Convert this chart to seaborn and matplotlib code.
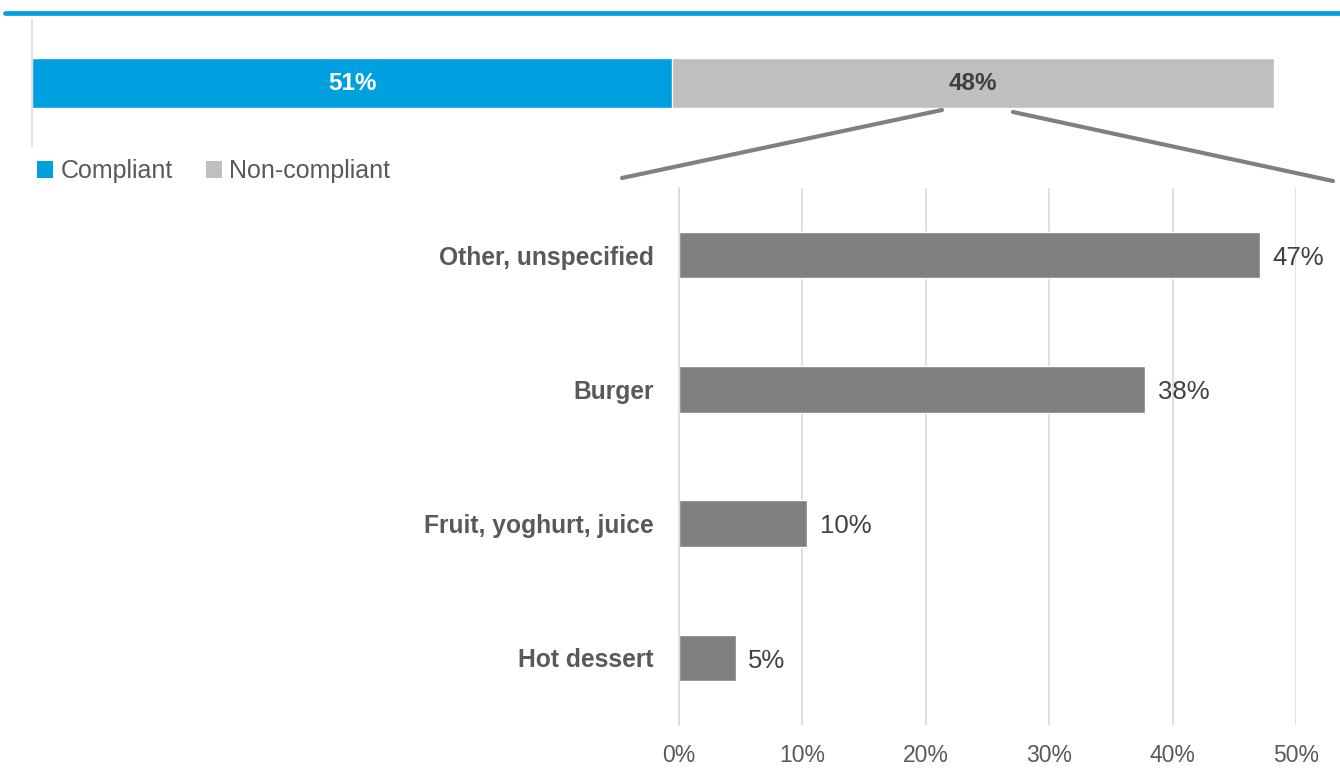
import matplotlib
matplotlib.use("Agg")
import matplotlib.pyplot as plt
from matplotlib.lines import Line2D
from matplotlib.patches import Patch
import seaborn as sns
import pandas as pd

# Overall compliance split (percent)
status_labels = ["Compliant", "Non-compliant"]
status_values = [51, 48]

# Breakdown of the non-compliant items (percent)
categories = ["Other, unspecified", "Burger", "Fruit, yoghurt, juice", "Hot dessert"]
category_values = [47.1, 37.8, 10.4, 4.6]

x_ticks = [0, 10, 20, 30, 40, 50]

BLUE = "#009fe0"
LIGHT_GREY = "#bfbfbf"
DARK_GREY = "#808080"
TEXT = "#595959"
GRID = "#d9d9d9"

sns.set_theme(style="white")
plt.rcParams["font.family"] = ["Liberation Sans", "DejaVu Sans"]

W, H = 1340, 780
fig = plt.figure(figsize=(W / 100, H / 100), dpi=100)


def fx(px):
    return px / W


def fy(py):
    return 1 - py / H


# Header rule
fig.add_artist(Line2D([fx(5), 1.0], [fy(12.5), fy(12.5)], color=BLUE, lw=3.4,
                      transform=fig.transFigure))

# ---- Top: stacked compliance bar ----
ax_top = fig.add_axes([fx(32), fy(146), fx(1255), (146 - 20) / H])
top_df = pd.DataFrame({"row": ["all"], "total": [sum(status_values)],
                       "first": [status_values[0]]})
sns.barplot(data=top_df, x="total", y="row", orient="h", color=LIGHT_GREY,
            width=0.4, saturation=1, ax=ax_top)
sns.barplot(data=top_df, x="first", y="row", orient="h", color=BLUE,
            width=0.4, saturation=1, ax=ax_top)
ax_top.set_xlim(0, 100)
ax_top.set_ylim(0.5, -0.5)
ax_top.set_xlabel("")
ax_top.set_ylabel("")
ax_top.set_xticks([])
ax_top.set_yticks([])
for s in ["top", "right", "bottom"]:
    ax_top.spines[s].set_visible(False)
ax_top.spines["left"].set_color(GRID)
ax_top.spines["left"].set_linewidth(1.2)

ax_top.text(status_values[0] / 2, 0, f"{status_values[0]}%", ha="center", va="center",
            color="white", fontsize=17.5, fontweight="bold")
ax_top.text(status_values[0] + status_values[1] / 2, 0, f"{status_values[1]}%",
            ha="center", va="center", color="#404040", fontsize=17.5, fontweight="bold")

handles = [Patch(facecolor=BLUE, edgecolor="none"), Patch(facecolor=LIGHT_GREY, edgecolor="none")]
fig.legend(handles, status_labels, loc="center left", bbox_to_anchor=(fx(37), fy(171)),
           frameon=False, ncol=2, fontsize=18, handlelength=0.65, handleheight=0.65,
           handletextpad=0.3, columnspacing=1.3, labelcolor=TEXT, borderpad=0,
           borderaxespad=0)

# Connector lines from the non-compliant segment to the breakdown
fig.add_artist(Line2D([fx(622), fx(942)], [fy(178), fy(110)], color=DARK_GREY, lw=3,
                      transform=fig.transFigure))
fig.add_artist(Line2D([fx(1013), fx(1333)], [fy(112), fy(181)], color=DARK_GREY, lw=3,
                      transform=fig.transFigure))

# ---- Bottom: breakdown of non-compliant items ----
ax = fig.add_axes([fx(679), fy(725), fx(617), (725 - 188) / H])
bd = pd.DataFrame({"category": categories, "value": category_values})
sns.barplot(data=bd, x="value", y="category", orient="h", color=DARK_GREY,
            width=0.345, saturation=1, ax=ax, zorder=3)
ax.set_xlim(0, 50)
ax.set_ylim(len(categories) - 0.5, -0.5)
ax.set_xlabel("")
ax.set_ylabel("")
ax.set_xticks(x_ticks)
ax.set_xticklabels([f"{t}%" for t in x_ticks], color=TEXT, fontsize=16.5)
ax.tick_params(axis="x", length=0, pad=14)
ax.set_yticks(range(len(categories)))
ax.set_yticklabels(categories, color=TEXT, fontsize=17.7, fontweight="bold")
ax.tick_params(axis="y", which="major", length=0, pad=18)
ax.set_yticks([i - 0.5 for i in range(len(categories) + 1)], minor=True)
ax.tick_params(axis="y", which="minor", length=8, width=1.2, color=GRID, direction="out")
ax.grid(axis="x", color=GRID, lw=1.2, zorder=0)
ax.grid(axis="y", visible=False)
for s in ["top", "right", "bottom"]:
    ax.spines[s].set_visible(False)
ax.spines["left"].set_color(GRID)
ax.spines["left"].set_linewidth(1.2)
ax.spines["left"].set_zorder(4)

for i, v in enumerate(category_values):
    ax.text(v + 1.0, i + 0.02, f"{v:.0f}%", ha="left", va="center", color="#404040",
            fontsize=18.5, clip_on=False)

fig.savefig("out.png", dpi=100)
